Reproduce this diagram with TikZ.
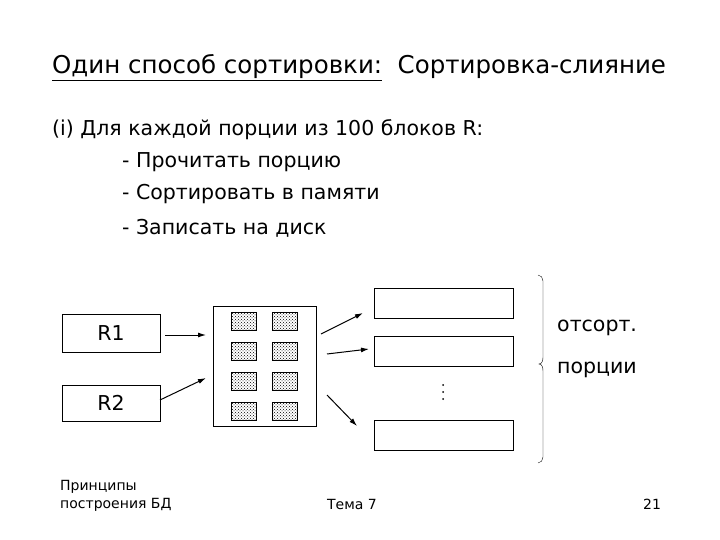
\documentclass[tikz,border=0pt]{standalone}
\usepackage{fontspec}
\setmainfont{DejaVu Sans}
\usetikzlibrary{patterns,decorations.pathreplacing,arrows.meta}
\begin{document}
\begin{tikzpicture}[x=1pt,y=-1pt,
  box/.style={draw,line width=0.8pt},
  blk/.style={draw,line width=0.6pt,fill=black!45,pattern=crosshatch dots,pattern color=black},
  arr/.style={-{Latex[length=8pt,width=5pt]},line width=1pt},
  txt/.style={anchor=west,inner sep=0pt,font=\fontsize{20.5}{24}\selectfont}]
\useasboundingbox (0,0) rectangle (720,540);
\node[txt,font=\fontsize{24.5}{28}\selectfont] (title) at (52,68) {\underline{Один способ сортировки:}\ \ Сортировка-слияние};
\node[txt] (l1) at (52,130) {(i) Для каждой порции из 100 блоков R:};
\node[txt] (l2) at (122,162) {- Прочитать порцию};
\node[txt] (l3) at (122,194) {- Сортировать в памяти};
\node[txt] (l4) at (122,228) {- Записать на диск};
\node[box,minimum width=98pt,minimum height=38pt,font=\fontsize{20.5}{24}\selectfont] (r1) at (111,333) {R1};
\node[box,minimum width=98pt,minimum height=36pt,font=\fontsize{20.5}{24}\selectfont] (r2) at (111,403) {R2};
\node[box,minimum width=103pt,minimum height=120pt] (mem) at (264.5,366) {};
\foreach \x/\c in {243.5/a,284.5/b}{
  \foreach \y/\r in {321/1,351/2,381/3,411/4}{
    \node[blk,minimum width=25pt,minimum height=18pt,inner sep=0pt] (s\c\r) at (\x,\y) {};
  }}
\node[box,minimum width=139pt,minimum height=30pt] (o1) at (443.5,303) {};
\node[box,minimum width=139pt,minimum height=30pt] (o2) at (443.5,351) {};
\node[box,minimum width=139pt,minimum height=30pt] (o3) at (443.5,435) {};
\foreach \y in {385,392,399} \fill (443,\y) circle (1pt);
\coordinate (a1s) at (165,335); \coordinate (a1e) at (206,335);
\coordinate (a2s) at (160,400); \coordinate (a2e) at (206,378);
\draw[arr] (a1s) -- (a1e);
\draw[arr] (a2s) -- (a2e);
\coordinate (b1s) at (321,334); \coordinate (b1e) at (363,313);
\coordinate (b2s) at (327,354); \coordinate (b2e) at (369,349);
\coordinate (b3s) at (327,395); \coordinate (b3e) at (357,426);
\draw[arr] (b1s) -- (b1e);
\draw[arr] (b2s) -- (b2e);
\draw[arr] (b3s) -- (b3e);
\draw (538,275) to[out=0,in=90] (543,281) -- (543,357) to[out=-90,in=0] (539,364) to[out=0,in=90] (543,371) -- (543,457) to[out=-90,in=0] (538,463);
\node[txt] (t1) at (557,328) {отсорт.};
\node[txt] (t2) at (557,370) {порции};
\node[anchor=north west,align=left,inner sep=0pt,font=\fontsize{14}{18}\selectfont] (f1) at (60,480) {Принципы\\построения БД};
\node[inner sep=0pt,font=\fontsize{14}{18}\selectfont] (f2) at (352,504) {Тема 7};
\node[inner sep=0pt,font=\fontsize{14}{18}\selectfont] (f3) at (652,504) {21};
\end{tikzpicture}
\end{document}
